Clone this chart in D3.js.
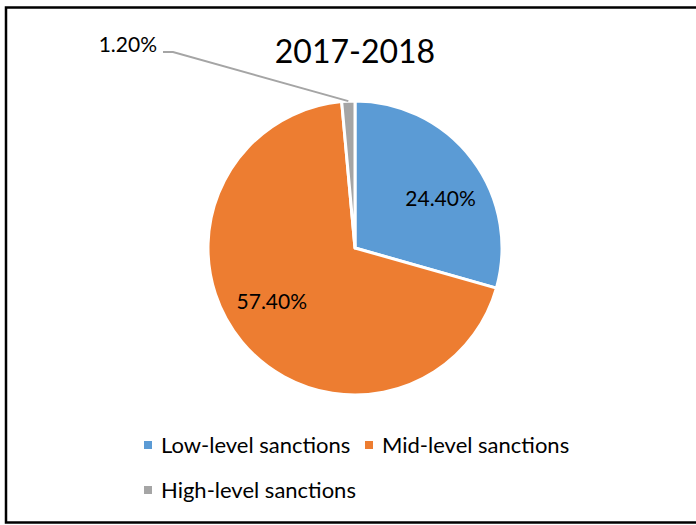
<!DOCTYPE html>
<html>
<head>
<meta charset="utf-8">
<script src="https://cdn.jsdelivr.net/npm/d3@7"></script>
<style>
  html, body { margin: 0; padding: 0; background: #fff; }
  svg { display: block; font-family: Lato, "Open Sans", sans-serif; }
</style>
</head>
<body>
<svg id="chart" width="696" height="525"></svg>
<script>
// Sanction levels and their shares for 2017-2018
const categories = ["Low-level sanctions", "Mid-level sanctions", "High-level sanctions"];
const values = [24.4, 57.4, 1.2];
const valueLabels = ["24.40%", "57.40%", "1.20%"];
const colors = ["#5B9BD5", "#ED7D31", "#A5A5A5"];
const title = "2017-2018";

const svg = d3.select("#chart");
const cx = 355, cy = 248, R = 147;

// outer frame
svg.append("rect")
  .attr("x", 6).attr("y", 7.5)
  .attr("width", 700).attr("height", 515)
  .attr("fill", "none").attr("stroke", "#000").attr("stroke-width", 2.5);

// title
svg.append("text")
  .attr("x", cx).attr("y", 63)
  .attr("text-anchor", "middle")
  .attr("font-size", 32)
  .attr("fill", "#000")
  .text(title);

const data = categories.map((c, i) => ({ name: c, value: values[i], label: valueLabels[i], color: colors[i] }));

const pie = d3.pie().sort(null).value(d => d.value);
const arcs = pie(data);
const arc = d3.arc().innerRadius(0).outerRadius(R);

const g = svg.append("g").attr("transform", `translate(${cx},${cy})`);

g.selectAll("path.slice")
  .data(arcs)
  .enter().append("path")
  .attr("class", "slice")
  .attr("d", arc)
  .attr("fill", d => d.data.color)
  .attr("stroke", "#fff")
  .attr("stroke-width", 3)
  .attr("stroke-linejoin", "round");

// inner labels for the two large slices
const labelR = 99, labelShift = 0.12;
arcs.filter(a => (a.endAngle - a.startAngle) > 0.3).forEach(a => {
  const ang = (a.startAngle + a.endAngle) / 2 + labelShift;
  g.append("text")
    .attr("x", labelR * Math.sin(ang))
    .attr("y", -labelR * Math.cos(ang))
    .attr("dy", "0.36em")
    .attr("text-anchor", "middle")
    .attr("font-size", 21)
    .attr("fill", "#000")
    .text(a.data.label);
});

// outside label with leader line for the small slice
arcs.filter(a => (a.endAngle - a.startAngle) <= 0.3).forEach(a => {
  const ang = (a.startAngle + a.endAngle) / 2;
  const px = cx + R * Math.sin(ang), py = cy - R * Math.cos(ang);
  const lx = 163, ly = 52;
  svg.append("polyline")
    .attr("points", `${lx},${ly} ${lx + 10},${ly} ${px},${py}`)
    .attr("fill", "none")
    .attr("stroke", a.data.color)
    .attr("stroke-width", 2);
  svg.append("text")
    .attr("x", lx - 6).attr("y", ly)
    .attr("text-anchor", "end")
    .attr("font-size", 21)
    .attr("fill", "#000")
    .text(a.data.label);
});

// legend
const legendPos = [
  { x: 144, y: 441 },
  { x: 365, y: 441 },
  { x: 144, y: 486 }
];
const leg = svg.append("g");
data.forEach((d, i) => {
  const p = legendPos[i];
  leg.append("rect")
    .attr("x", p.x).attr("y", p.y)
    .attr("width", 8).attr("height", 8)
    .attr("fill", d.color);
  leg.append("text")
    .attr("x", p.x + 17).attr("y", p.y + 11.5)
    .attr("font-size", 22)
    .attr("fill", "#000")
    .text(d.name);
});
</script>
</body>
</html>
